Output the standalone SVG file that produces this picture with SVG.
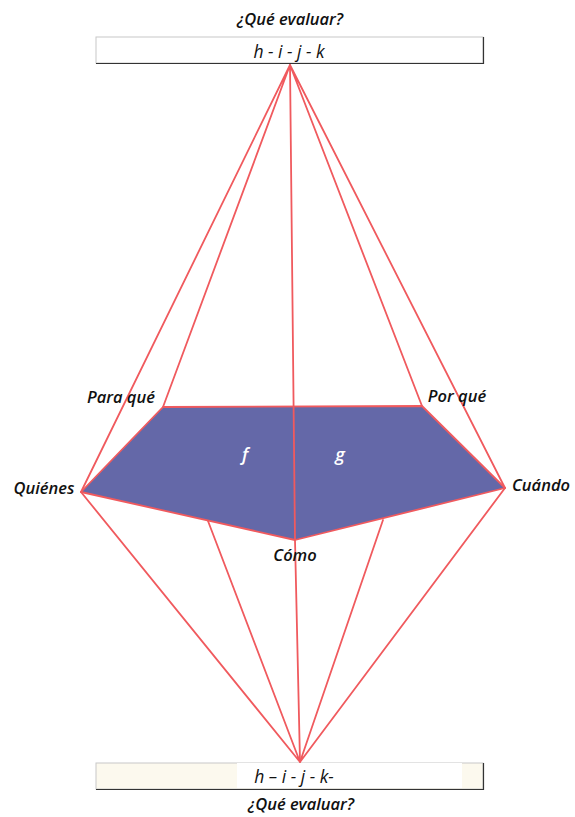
<svg xmlns="http://www.w3.org/2000/svg" width="575" height="817" viewBox="0 0 575 817">
<style>
.lbl{font-family:"Open Sans","Noto Sans",sans-serif;font-style:italic;font-weight:600;font-size:16.5px;fill:#111}
.box{font-family:"Open Sans","Noto Sans",sans-serif;font-style:italic;font-weight:400;font-size:17.5px;fill:#111}
.in{font-family:"Open Sans","Noto Sans",sans-serif;font-style:italic;font-weight:600;font-size:18px;fill:#fff}
.ln{stroke:#f05a5e;stroke-width:1.8;fill:none;stroke-linecap:round;stroke-linejoin:round}
</style>
<rect width="575" height="817" fill="#fff"/>
<g id="top-box">
<text class="lbl" x="290" y="25" text-anchor="middle">¿Qué evaluar?</text>
<rect x="96" y="37" width="387" height="26" fill="#fff" stroke="#c8c8c8" stroke-width="1"/>
<path d="M96 63.5H483.5V37" stroke="#333" stroke-width="1.2" fill="none"/>
<text class="box" x="289" y="58" text-anchor="middle">h - i - j - k</text>
</g>
<g id="bottom-box">
<rect x="96" y="763" width="387" height="26" fill="#fcf9ee" stroke="#c8c8c8" stroke-width="1"/>
<rect x="237" y="763" width="225" height="25" fill="#fff"/>
<path d="M96 789.5H483.5V763" stroke="#333" stroke-width="1.2" fill="none"/>
<text class="box" x="294" y="783" text-anchor="middle">h – i - j - k-</text>
<text class="lbl" x="301" y="810" text-anchor="middle">¿Qué evaluar?</text>
</g>
<g id="polygon">
<polygon points="163,407 422,406 505,488 295,540 81,492" fill="#6468a8"/>
<text class="in" x="245" y="461" text-anchor="middle">f</text>
<text class="in" x="340" y="461" text-anchor="middle">g</text>
</g>
<g id="connectors">
<polygon class="ln" points="163,407 422,406 505,488 295,540 81,492"/>
<path class="ln" d="M290 65L81 492M290 65L163 407M290 65L295 540L300 762M290 65L422 406M290 65L505 488"/>
<path class="ln" d="M300 762L81 492M300 762L208 521M300 762L383 520M300 762L505 488"/>
</g>
<g id="labels">
<text class="lbl" x="121" y="403" text-anchor="middle">Para qué</text>
<text class="lbl" x="457" y="402" text-anchor="middle">Por qué</text>
<text class="lbl" x="44" y="494" text-anchor="middle">Quiénes</text>
<text class="lbl" x="541" y="491" text-anchor="middle">Cuándo</text>
<text class="lbl" x="295" y="561" text-anchor="middle">Cómo</text>
</g>
</svg>
